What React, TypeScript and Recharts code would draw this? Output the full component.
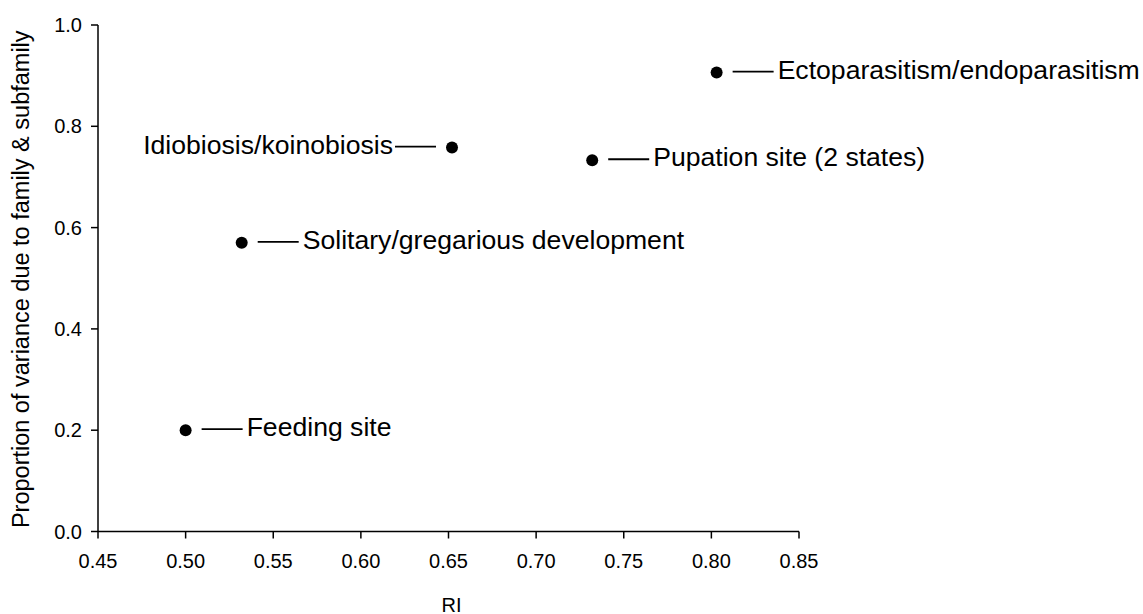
import React from 'react';
import { ScatterChart, Scatter, XAxis, YAxis } from 'recharts';

// ---- Data ----
const traitNames = [
  'Feeding site',
  'Solitary/gregarious development',
  'Idiobiosis/koinobiosis',
  'Pupation site (2 states)',
  'Ectoparasitism/endoparasitism',
];
const riValues = [0.5, 0.532, 0.652, 0.732, 0.803];
const varianceShare = [0.2, 0.57, 0.758, 0.733, 0.906];
const xTicks = [0.45, 0.5, 0.55, 0.6, 0.65, 0.7, 0.75, 0.8, 0.85];
const yTicks = [0, 0.2, 0.4, 0.6, 0.8, 1.0];
const xAxisTitle = 'RI';
const yAxisTitle = 'Proportion of variance due to family & subfamily';

// label side per trait (style only)
const leftLabelled = new Set(['Idiobiosis/koinobiosis']);

const points = traitNames.map((name, i) => ({ name, ri: riValues[i], v: varianceShare[i] }));

const FONT = '"Liberation Sans", Arial, Helvetica, sans-serif';

const DotWithLabel = (props: any) => {
  const { cx, cy, payload } = props;
  if (cx == null || cy == null) return null;
  const left = leftLabelled.has(payload.name);
  const gap = 16;
  const len = 41;
  const ly = cy - 1;
  const x1 = left ? cx - gap : cx + gap;
  const x2 = left ? cx - gap - len : cx + gap + len;
  const tx = left ? x2 - 2 : x2 + 4;
  return (
    <g>
      <circle cx={cx} cy={cy} r={6} fill="#000" />
      <line x1={x1} y1={ly} x2={x2} y2={ly} stroke="#000" strokeWidth={1.8} />
      <text
        x={tx}
        y={cy - 3}
        textAnchor={left ? 'end' : 'start'}
        dominantBaseline="central"
        fontFamily={FONT}
        fontSize={26.6}
        fill="#000"
      >
        {payload.name}
      </text>
    </g>
  );
};

export default function App() {
  return (
    <div style={{ position: 'absolute', left: 0, top: 0, width: 1143, height: 614, background: '#fff' }}>
      <ScatterChart
        width={1143}
        height={614}
        margin={{ top: 25, right: 344, bottom: 22.5, left: 38 }}
      >
        <XAxis
          type="number"
          dataKey="ri"
          domain={[0.45, 0.85]}
          ticks={xTicks}
          tickFormatter={(t: number) => t.toFixed(2)}
          height={60}
          tickSize={7}
          tickMargin={15}
          stroke="#000"
          strokeWidth={1.5}
          tick={{ fill: '#000', fontSize: 20, fontFamily: FONT }}
          label={{
            content: (p: any) => {
              const vb = p.viewBox || { x: 98, width: 701, y: 531.5 };
              return (
                <text
                  x={vb.x + vb.width / 2 + 3}
                  y={vb.y + 73}
                  textAnchor="middle"
                  dominantBaseline="central"
                  fontFamily={FONT}
                  fontSize={20}
                  fill="#000"
                >
                  {xAxisTitle}
                </text>
              );
            },
          }}
        />
        <YAxis
          type="number"
          dataKey="v"
          domain={[0, 1]}
          ticks={yTicks}
          tickFormatter={(t: number) => t.toFixed(1)}
          width={60}
          tickSize={7}
          tickMargin={9}
          stroke="#000"
          strokeWidth={1.5}
          tick={{ fill: '#000', fontSize: 20, fontFamily: FONT }}
          label={{
            content: (p: any) => {
              const vb = p.viewBox || { y: 25, height: 506.5 };
              const cy = vb.y + vb.height / 2 + 1;
              return (
                <text
                  x={21}
                  y={cy}
                  transform={`rotate(-90, 21, ${cy})`}
                  textAnchor="middle"
                  dominantBaseline="central"
                  fontFamily={FONT}
                  fontSize={23.5}
                  fill="#000"
                >
                  {yAxisTitle}
                </text>
              );
            },
          }}
        />
        <Scatter data={points} shape={DotWithLabel} isAnimationActive={false} />
      </ScatterChart>
    </div>
  );
}
